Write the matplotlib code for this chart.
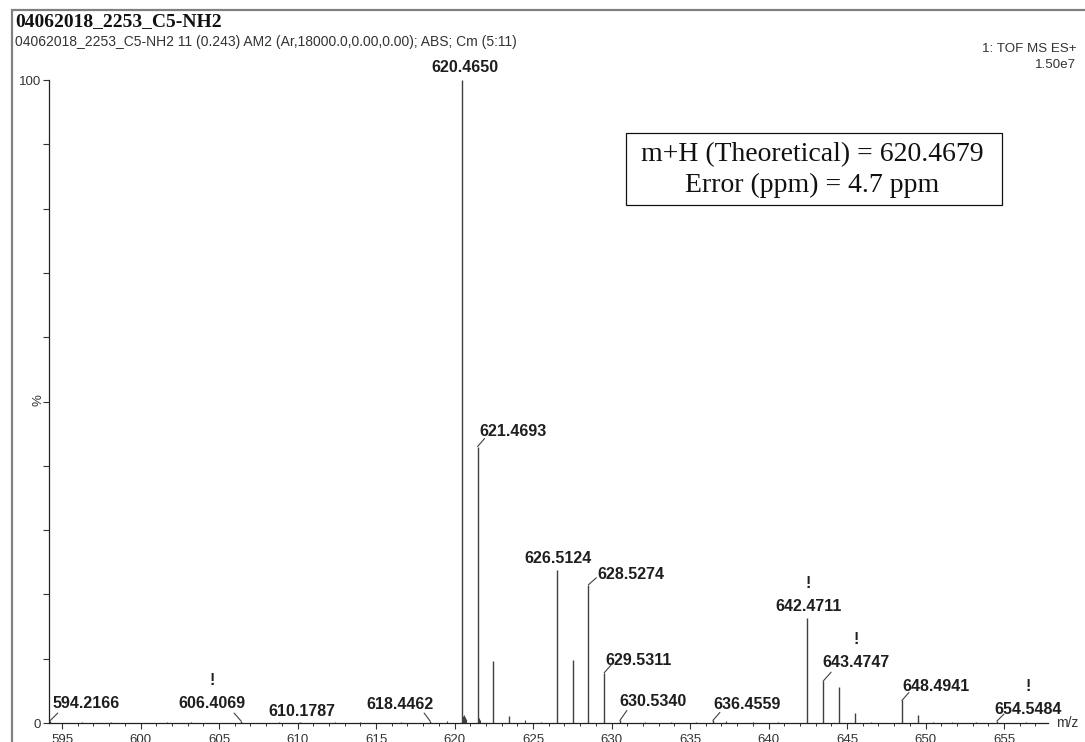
import matplotlib
matplotlib.use("Agg")
import matplotlib.pyplot as plt
from matplotlib.patches import Rectangle
from matplotlib import font_manager

# ---- spectrum data (m/z, relative intensity %) ----
peak_mz = [594.2166, 606.4069, 610.1787, 618.4462, 620.4650, 621.4693, 622.4725,
           623.4752, 626.5124, 627.5160, 628.5274, 629.5311, 630.5340, 636.4559,
           642.4711, 643.4747, 644.4780, 645.4810, 648.4941, 649.4975, 654.5484]
peak_int = [0.3, 0.3, 0.2, 0.3, 100.0, 43.0, 9.7,
            1.1, 23.8, 9.8, 21.5, 7.8, 0.4, 0.4,
            16.3, 6.5, 5.6, 1.6, 3.5, 1.2, 0.3]

# shoulders and baseline noise
minor_mz = [619.55, 620.56, 620.62, 620.68, 620.75, 621.56, 621.62, 624.47, 625.50,
            637.30, 646.50, 650.50, 596.3, 598.1, 601.7, 603.2, 608.8, 612.4, 614.0,
            616.6, 632.1, 633.8, 635.4, 639.0, 640.6, 651.7, 653.2, 656.4]
minor_int = [0.3, 1.1, 1.2, 1.0, 0.6, 0.8, 0.5, 0.4, 0.2,
             0.3, 0.2, 0.2, 0.15, 0.15, 0.2, 0.15, 0.15, 0.2, 0.15,
             0.15, 0.2, 0.15, 0.15, 0.2, 0.15, 0.15, 0.2, 0.15]

labelled_mz = [594.2166, 606.4069, 610.1787, 618.4462, 620.4650, 621.4693, 626.5124,
               628.5274, 629.5311, 630.5340, 636.4559, 642.4711, 643.4747, 648.4941,
               654.5484]
flagged_mz = [606.4069, 642.4711, 643.4747, 654.5484]

x_ticks = [595, 600, 605, 610, 615, 620, 625, 630, 635, 640, 645, 650, 655]

title = "04062018_2253_C5-NH2"
subtitle = "04062018_2253_C5-NH2 11 (0.243) AM2 (Ar,18000.0,0.00,0.00); ABS; Cm (5:11)"
mode_text = "1: TOF MS ES+"
scale_text = "1.50e7"
theoretical_mz = 620.4679
error_ppm = 4.7

# label placement: text centre offset and leader end offset, in pixels from peak top
label_layout = {
    594.2166: ((36, 18), (8, 8)),
    606.4069: ((-29, 18), (-7, 8)),
    610.1787: ((2, 10), None),
    618.4462: ((-30, 17), (-6, 8)),
    620.4650: ((3, 13), None),
    621.4693: ((35, 15), (7, 8)),
    626.5124: ((1, 11), None),
    628.5274: ((42, 10), (8, 7)),
    629.5311: ((34, 12), (7, 8)),
    630.5340: ((33, 19), (7, 10)),
    636.4559: ((34, 16), (7, 8)),
    642.4711: ((1, 12), None),
    643.4747: ((33, 19), (8, 9)),
    648.4941: ((34, 14), (7, 8)),
    654.5484: ((31, 12), (7, 7)),
}

# condensed bold face for the peak annotations when it is available
installed = {f.name for f in font_manager.fontManager.ttflist}
if "Liberation Sans Narrow" in installed:
    peak_family, peak_size = "Liberation Sans Narrow", 13.3
else:
    peak_family, peak_size = "Liberation Sans", 11.5

W, H = 1085, 742
fig = plt.figure(figsize=(W / 100, H / 100), dpi=100)
fig.patch.set_facecolor("white")

ax = fig.add_axes([49 / W, 19 / H, 999 / W, 643 / H])
ax.set_xlim(594.17, 657.8)
ax.set_ylim(0, 100)
ax.patch.set_alpha(0)

line_col = "#404040"
ax.vlines(minor_mz, 0, minor_int, color=line_col, lw=0.8)
ax.vlines(peak_mz, 0, peak_int, color=line_col, lw=1.0)

for s in ("top", "right"):
    ax.spines[s].set_visible(False)
for s in ("left", "bottom"):
    ax.spines[s].set_color("#222222")
    ax.spines[s].set_linewidth(0.9)

ax.set_xticks(x_ticks)
ax.set_xticklabels([str(t) for t in x_ticks])
ax.set_xticks(range(595, 658), minor=True)
ax.set_yticks(range(0, 101, 10))
ax.set_yticklabels(["0"] + [""] * 9 + ["100"])
ax.tick_params(axis="x", which="major", direction="out", length=4.5, width=0.8,
               colors="#333333", labelsize=9.5, pad=3.5)
ax.tick_params(axis="x", which="minor", direction="out", length=2.5, width=0.7,
               colors="#333333")
ax.tick_params(axis="y", which="major", direction="out", length=4, width=0.8,
               colors="#333333", labelsize=9.5, pad=1.5)
for lbl in ax.get_xticklabels() + ax.get_yticklabels():
    lbl.set_fontfamily("Liberation Sans")

# peak labels
intensity = dict(zip(peak_mz, peak_int))
label_font = dict(family=peak_family, weight="bold", size=peak_size, color="#1e1e1e")
for mz in labelled_mz:
    h = intensity[mz]
    (tdx, tdy), leader = label_layout[mz]
    ax.annotate(f"{mz:.4f}", xy=(mz, h), xycoords="data", xytext=(tdx, tdy),
                textcoords="offset pixels", ha="center", va="center", **label_font)
    if mz in flagged_mz:
        ax.annotate("!", xy=(mz, h), xycoords="data", xytext=(tdx, tdy + 23),
                    textcoords="offset pixels", ha="center", va="center", **label_font)
    if leader is not None:
        ax.annotate("", xy=(mz, h), xycoords="data", xytext=leader,
                    textcoords="offset pixels",
                    arrowprops=dict(arrowstyle="-", lw=0.8, color=line_col,
                                    shrinkA=0, shrinkB=0))

# axis captions
fig.text(38 / W, 1 - 400 / H, "%", rotation=90, ha="center", va="center",
         family="Liberation Sans", size=9.5, color="#333333")
fig.text(1067 / W, 1 - 723 / H, "m/z", ha="center", va="center",
         family="Liberation Sans", size=10, color="#333333")

# header
fig.text(15 / W, 1 - 22 / H, title, ha="left", va="center",
         family="Liberation Serif", weight="bold", size=14, color="#111111")
fig.text(15 / W, 1 - 42 / H, subtitle, ha="left", va="center",
         family="Liberation Sans", size=10, color="#333333")
fig.text(1076 / W, 1 - 49 / H, mode_text, ha="right", va="center",
         family="Liberation Sans", size=9.6, color="#333333")
fig.text(1076 / W, 1 - 65 / H, scale_text, ha="right", va="center",
         family="Liberation Sans", size=9.6, color="#333333")

# mass accuracy box
fig.add_artist(Rectangle((626 / W, 1 - 205 / H), 376 / W, 72 / H,
                         transform=fig.transFigure, fill=False,
                         edgecolor="#111111", lw=0.9))
fig.text(812 / W, 1 - 170 / H,
         f"m+H (Theoretical) = {theoretical_mz:.4f}\nError (ppm) = {error_ppm} ppm",
         ha="center", va="center", multialignment="center",
         family="Liberation Serif", size=20, linespacing=1.3, color="#111111")

# page frame
fig.add_artist(Rectangle((12 / W, -0.05), 1.2, 1.05 - 10 / H,
                         transform=fig.transFigure, fill=False,
                         edgecolor="#808080", lw=1.6))

fig.savefig("out.png", dpi=100)
